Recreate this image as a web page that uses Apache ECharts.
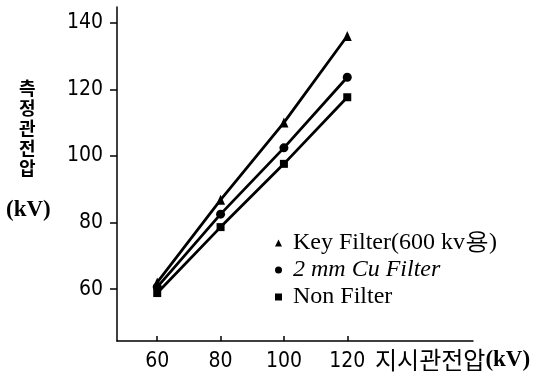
<!DOCTYPE html>
<html>
<head>
<meta charset="utf-8">
<script src="https://cdn.jsdelivr.net/npm/echarts@6/dist/echarts.min.js"></script>
<style>
  html, body { margin: 0; padding: 0; background: #fff; }
  #myChart { width: 544px; height: 376px; }
</style>
</head>
<body>
<div id="myChart"></div>
<script>
  // 지시관전압 (x) 과 측정관전압 (y), 단위 kV
  var kvSet = [60, 80, 100, 120];
  var keyFilter = [62, 86.8, 110, 136];
  var cuFilter = [60.6, 82.5, 102.4, 123.6];
  var nonFilter = [58.8, 78.6, 97.6, 117.6];
  var xTicks = [60, 80, 100, 120];
  var yTicks = [60, 80, 100, 120, 140];
  var legendNames = ['Key Filter(600 kv용)', '2 mm Cu Filter', 'Non Filter'];

  function pairs(xs, ys) {
    return xs.map(function (x, i) { return [x, ys[i]]; });
  }

  var tickFont = "'Liberation Sans Narrow', 'DejaVu Sans Condensed', 'DejaVu Sans', sans-serif";
  var korFont = "'Noto Sans CJK KR', sans-serif";
  var serifFont = "'Liberation Serif', serif";

  var myChart = echarts.init(document.getElementById('myChart'));

  var lineStyle = { color: '#000', width: 2.8 };

  var option = {
    backgroundColor: '#fff',
    animation: false,
    grid: { left: 117, top: 7, width: 356, height: 334 },
    legend: {
      orient: 'vertical',
      left: 270,
      top: 226,
      itemWidth: 7,
      itemHeight: 7,
      itemGap: 3,
      textStyle: {
        fontFamily: serifFont,
        fontSize: 24,
        color: '#000',
        padding: [0, 0, 0, 6]
      },
      data: [
        { name: legendNames[0], icon: 'triangle' },
        { name: legendNames[1], icon: 'circle', textStyle: { fontStyle: 'italic' } },
        { name: legendNames[2], icon: 'rect' }
      ]
    },
    xAxis: {
      type: 'value',
      min: 47.3,
      max: 159.7,
      splitLine: { show: false },
      axisLine: { lineStyle: { color: '#000', width: 1.5 } },
      axisTick: { inside: true, length: 5, customValues: xTicks, lineStyle: { color: '#000', width: 1.5 } },
      axisLabel: {
        customValues: xTicks,
        margin: 10,
        color: '#000',
        fontSize: 21,
        fontFamily: tickFont
      }
    },
    yAxis: {
      type: 'value',
      min: 44.4,
      max: 144.7,
      splitLine: { show: false },
      axisLine: { lineStyle: { color: '#000', width: 1.5 } },
      axisTick: { length: 7, customValues: yTicks, lineStyle: { color: '#000', width: 1.5 } },
      axisLabel: {
        customValues: yTicks,
        margin: 14,
        color: '#000',
        fontSize: 21,
        fontFamily: tickFont
      }
    },
    graphic: [
      {
        type: 'text',
        left: 19,
        top: 78,
        style: {
          text: '측\n정\n관\n전\n압',
          font: '600 18px ' + korFont,
          lineHeight: 20,
          fill: '#000'
        }
      },
      {
        type: 'text',
        left: 6,
        top: 199,
        style: {
          text: '(kV)',
          font: 'bold 23px ' + serifFont,
          fill: '#000'
        }
      },
      {
        type: 'text',
        left: 375,
        top: 348,
        style: {
          text: '{k|지시관전압}{u|(kV)}',
          fill: '#000',
          rich: {
            k: { fontFamily: korFont, fontSize: 24, fontWeight: 400 },
            u: { fontFamily: serifFont, fontSize: 23, fontWeight: 'bold' }
          }
        }
      }
    ],
    series: [
      {
        name: legendNames[0],
        type: 'line',
        symbol: 'triangle',
        symbolSize: [9, 10],
        itemStyle: { color: '#000' },
        lineStyle: lineStyle,
        data: pairs(kvSet, keyFilter)
      },
      {
        name: legendNames[1],
        type: 'line',
        symbol: 'circle',
        symbolSize: 9,
        itemStyle: { color: '#000' },
        lineStyle: lineStyle,
        data: pairs(kvSet, cuFilter)
      },
      {
        name: legendNames[2],
        type: 'line',
        symbol: 'rect',
        symbolSize: 8,
        itemStyle: { color: '#000' },
        lineStyle: lineStyle,
        data: pairs(kvSet, nonFilter)
      }
    ]
  };
  myChart.setOption(option);
</script>
</body>
</html>
